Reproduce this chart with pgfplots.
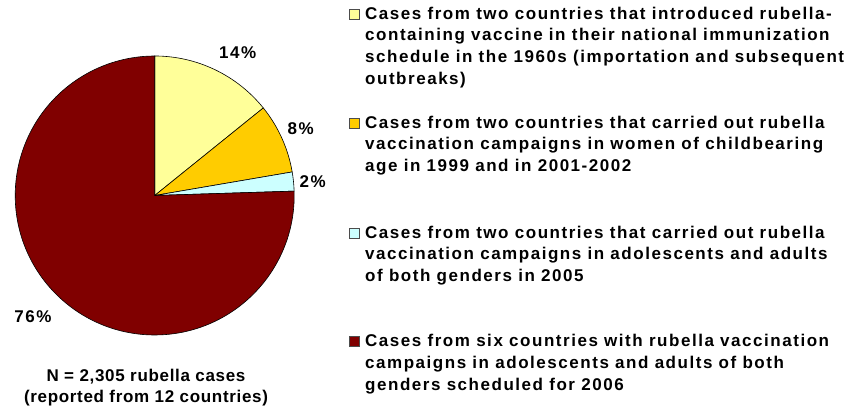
\documentclass[border=0pt]{standalone}
\usepackage{fontspec}
\setmainfont{Liberation Sans}[LetterSpace=9]
\newfontfamily\capfont{Liberation Sans}[LetterSpace=4]
\usepackage{pgfplots}
\usepackage{pgfplotstable}
\pgfplotsset{compat=1.18}

\definecolor{c0}{HTML}{FFFF99}
\definecolor{c1}{HTML}{FFCC00}
\definecolor{c2}{HTML}{CCFFFF}
\definecolor{c3}{HTML}{800000}

% share (percent), label, label position (pt from centre)
\pgfplotstableread{
value label lx ly
14.2 14 83 142.5
8.1 8 146 66.5
2.2 2 158 13.5
75.5 76 -121.7 -121.5
}\piedata

% cumulative start/end angles, clockwise from the top
\xdef\cum{90}
\foreach \i in {0,...,3}{%
  \pgfplotstablegetelem{\i}{value}\of\piedata
  \pgfmathsetmacro\e{\cum-3.6*\pgfplotsretval}%
  \expandafter\xdef\csname s\i\endcsname{\cum}%
  \expandafter\xdef\csname e\i\endcsname{\e}%
  \xdef\cum{\e}%
  \pgfplotstablegetelem{\i}{lx}\of\piedata \expandafter\xdef\csname lx\i\endcsname{\pgfplotsretval}%
  \pgfplotstablegetelem{\i}{ly}\of\piedata \expandafter\xdef\csname ly\i\endcsname{\pgfplotsretval}%
  \pgfplotstablegetelem{\i}{label}\of\piedata \expandafter\xdef\csname lb\i\endcsname{\pgfplotsretval}%
}

\newcommand\R{139.5}
\newcommand\legline[2]{\node[anchor=base west,inner sep=0pt] at (365,411-#1) {#2};}
\newcommand\legbox[2]{\draw[fill=#2,draw=black!70,line width=0.6pt] (349,411-#1) rectangle (359,411-#1+10);}

\begin{document}
\begin{tikzpicture}[x=1pt,y=1pt,font=\fontsize{17}{21.7}\selectfont\bfseries]
\begin{axis}[
  x=1pt, y=1pt,
  xmin=-140, xmax=140, ymin=-140, ymax=140,
  hide axis, clip=false,
  at={(154.7,215.5)}, anchor=origin,
]
\pgfplotsinvokeforeach{0,1,2,3}{
  \fill[fill=c#1,draw=black,line width=0.6pt]
    (axis cs:0,0) -- (axis cs:{\R*cos(\csname s#1\endcsname)},{\R*sin(\csname s#1\endcsname)})
    arc[start angle=\csname s#1\endcsname, end angle=\csname e#1\endcsname, radius=\R pt] -- cycle;
  \node[font=\fontsize{17}{19}\selectfont\bfseries] at (axis cs:\csname lx#1\endcsname,\csname ly#1\endcsname) {\csname lb#1\endcsname\%};
}
\end{axis}

\node[anchor=base,inner sep=0pt,font=\fontsize{17}{21}\capfont\bfseries] at (146,411-381.7) {N = 2,305 rubella cases};
\node[anchor=base,inner sep=0pt,font=\fontsize{17}{21}\capfont\bfseries] at (146,411-402.7) {(reported from 12 countries)};

\legbox{19.3}{c0}
\legline{19.3}{Cases from two countries that introduced rubella-}
\legline{41.0}{containing vaccine in their national immunization}
\legline{62.7}{schedule in the 1960s (importation and subsequent}
\legline{84.4}{outbreaks)}

\legbox{128.3}{c1}
\legline{128.3}{Cases from two countries that carried out rubella}
\legline{150.0}{vaccination campaigns in women of childbearing}
\legline{171.7}{age in 1999 and in 2001-2002}

\legbox{238.3}{c2}
\legline{238.3}{Cases from two countries that carried out rubella}
\legline{260.0}{vaccination campaigns in adolescents and adults}
\legline{281.7}{of both genders in 2005}

\legbox{346.7}{c3}
\legline{346.7}{Cases from six countries with rubella vaccination}
\legline{368.4}{campaigns in adolescents and adults of both}
\legline{390.1}{genders scheduled for 2006}

\pgfresetboundingbox
\useasboundingbox (0,0) rectangle (853,411);
\end{tikzpicture}
\end{document}
